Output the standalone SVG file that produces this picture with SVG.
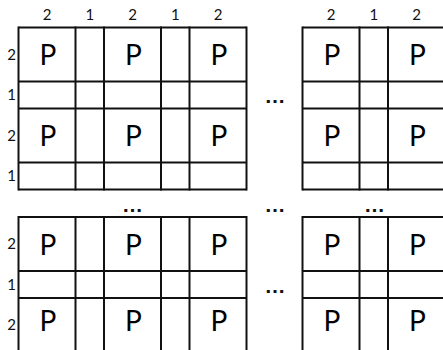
<svg xmlns="http://www.w3.org/2000/svg" width="443" height="350" viewBox="0 0 443 350">
<style>
.g line{stroke:#111;stroke-width:2;}
.lab{font-family:Lato,"Liberation Sans",sans-serif;font-size:15px;fill:#111;text-anchor:middle;}
.p{font-family:Lato,"Liberation Sans",sans-serif;font-size:28px;fill:#000;text-anchor:middle;}
.dots{font-family:"Liberation Sans",sans-serif;font-weight:bold;font-size:21px;fill:#111;text-anchor:middle;}
</style>
<rect width="443" height="350" fill="#fff"/>
<g id="col-labels" class="lab">
<text x="47" y="20">2</text><text x="89.8" y="20">1</text><text x="132.5" y="20">2</text><text x="175.3" y="20">1</text><text x="218" y="20">2</text>
<text x="331" y="20">2</text><text x="373.8" y="20">1</text><text x="416.5" y="20">2</text>
</g>
<g id="row-labels" class="lab">
<text x="11.5" y="60">2</text><text x="11.5" y="100">1</text><text x="11.5" y="140.5">2</text><text x="11.5" y="181">1</text>
<text x="11.5" y="249">2</text><text x="11.5" y="289.5">1</text><text x="11.5" y="330">2</text>
</g>
<g id="grid-top-left" class="g">
<line x1="18.5" y1="27.5" x2="246.5" y2="27.5"/><line x1="18.5" y1="81.5" x2="246.5" y2="81.5"/><line x1="18.5" y1="108.5" x2="246.5" y2="108.5"/><line x1="18.5" y1="162.5" x2="246.5" y2="162.5"/><line x1="18.5" y1="189.5" x2="246.5" y2="189.5"/>
<line x1="18.5" y1="26.5" x2="18.5" y2="190.5"/><line x1="75.5" y1="26.5" x2="75.5" y2="190.5"/><line x1="104" y1="26.5" x2="104" y2="190.5"/><line x1="161" y1="26.5" x2="161" y2="190.5"/><line x1="189.5" y1="26.5" x2="189.5" y2="190.5"/><line x1="246.5" y1="26.5" x2="246.5" y2="190.5"/>
</g>
<g id="grid-top-right" class="g">
<line x1="302.5" y1="27.5" x2="445" y2="27.5"/><line x1="302.5" y1="81.5" x2="445" y2="81.5"/><line x1="302.5" y1="108.5" x2="445" y2="108.5"/><line x1="302.5" y1="162.5" x2="445" y2="162.5"/><line x1="302.5" y1="189.5" x2="445" y2="189.5"/>
<line x1="302.5" y1="26.5" x2="302.5" y2="190.5"/><line x1="359.5" y1="26.5" x2="359.5" y2="190.5"/><line x1="388" y1="26.5" x2="388" y2="190.5"/>
</g>
<g id="grid-bottom-left" class="g">
<line x1="18.5" y1="217" x2="246.5" y2="217"/><line x1="18.5" y1="271" x2="246.5" y2="271"/><line x1="18.5" y1="298" x2="246.5" y2="298"/>
<line x1="18.5" y1="216" x2="18.5" y2="352"/><line x1="75.5" y1="216" x2="75.5" y2="352"/><line x1="104" y1="216" x2="104" y2="352"/><line x1="161" y1="216" x2="161" y2="352"/><line x1="189.5" y1="216" x2="189.5" y2="352"/><line x1="246.5" y1="216" x2="246.5" y2="352"/>
</g>
<g id="grid-bottom-right" class="g">
<line x1="302.5" y1="217" x2="445" y2="217"/><line x1="302.5" y1="271" x2="445" y2="271"/><line x1="302.5" y1="298" x2="445" y2="298"/>
<line x1="302.5" y1="216" x2="302.5" y2="352"/><line x1="359.5" y1="216" x2="359.5" y2="352"/><line x1="388" y1="216" x2="388" y2="352"/>
</g>
<g id="p-cells" class="p">
<text x="48" y="65">P</text><text x="133.5" y="65">P</text><text x="219" y="65">P</text><text x="332" y="65">P</text><text x="417.5" y="65">P</text>
<text x="48" y="146">P</text><text x="133.5" y="146">P</text><text x="219" y="146">P</text><text x="332" y="146">P</text><text x="417.5" y="146">P</text>
<text x="48" y="254.5">P</text><text x="133.5" y="254.5">P</text><text x="219" y="254.5">P</text><text x="332" y="254.5">P</text><text x="417.5" y="254.5">P</text>
<text x="48" y="331">P</text><text x="133.5" y="331">P</text><text x="219" y="331">P</text><text x="332" y="331">P</text><text x="417.5" y="331">P</text>
</g>
<g id="ellipses" class="dots">
<text x="275" y="103">…</text>
<text x="132.5" y="211.5">…</text>
<text x="275" y="211.5">…</text>
<text x="374.5" y="211.5">…</text>
<text x="275" y="292.5">…</text>
</g>
</svg>
